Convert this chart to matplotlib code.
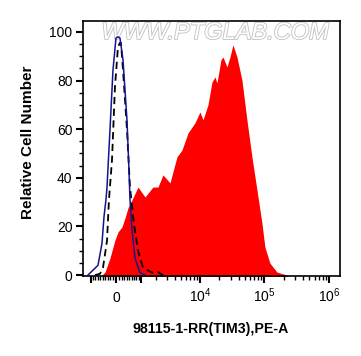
import numpy as np
import matplotlib.pyplot as plt
import matplotlib.patheffects as pe

plt.rcParams['font.family'] = ['Liberation Sans', 'DejaVu Sans']
plt.rcParams['mathtext.default'] = 'regular'

# 对照1 (蓝色实线)
ctrl_x = [-1175, -688, -521, -441, -365, -327, -216, -107, 0, 71, 143, 253, 403, 481, 521, 603, 732, 966, 1235]
ctrl_y = [0, 4, 13, 24, 31, 36, 59.7, 84.4, 97.5, 98, 97.5, 88.5, 63.8, 43.2, 31, 19, 7, 1, 0]

# 对照2 (黑色虚线)
blank_x = [-822, -603, -481, -327, -253, -143, -36, 71, 143, 179, 253, 403, 521, 688, 869, 1122, 1667, 2128, 2584]
blank_y = [0, 0.5, 3, 14, 31, 47.3, 77.4, 93.8, 95.5, 95.5, 84.4, 59.7, 36.2, 21, 10, 3, 1, 1.2, 0]

# 98115-1-RR (红色填充)
tim3_x = [-521, -403, -216, -36, 71, 216, 327, 441, 603, 869, 1235, 1736, 2128, 2584, 3365,
          4358, 5226, 6500, 8360, 10010, 11150, 13330, 15380, 17130, 18400, 21200, 22800,
          26300, 29300, 32600, 37600, 44900, 53700, 64200, 76800, 91700, 102000, 122000,
          157000, 224000]
tim3_y = [0, 1.2, 7, 14.4, 17.7, 19.8, 23.5, 27.6, 30.9, 36.2, 32.1, 36.2, 36.2, 41.2, 37.9,
          48.6, 51.4, 58.4, 62.6, 67.1, 63.8, 70, 79.4, 81.5, 79, 88.5, 89.7,
          85.6, 89.7, 94.7, 89.7, 80.2, 63.8, 48.6, 35, 21.4, 11.5, 4.9,
          1.2, 0]

xmajor = [-1000, 0, 1000, 1e4, 1e5, 1e6]
xmajor_labels = ['', '0', '', '$10^4$', '$10^5$', '$10^6$']
xminor = ([-i * 100 for i in range(1, 10)] + [i * 100 for i in range(1, 10)] +
          [i * 1000 for i in range(2, 10)] + [i * 10000 for i in range(2, 10)] +
          [i * 100000 for i in range(2, 10)])


# 双指数坐标
def fwd(x):
    return np.arcsinh(np.asarray(x) / 1000.0) / np.log(10)


def inv(y):
    return 1000.0 * np.sinh(np.asarray(y) * np.log(10))


fig = plt.figure(figsize=(3.61, 3.56), dpi=100)
ax = fig.add_axes([0.2299, 0.2247, 0.7119, 0.7163])
ax.set_xscale('function', functions=(fwd, inv))

ax.fill_between(tim3_x, tim3_y, -2, color='#ff0000', lw=0, zorder=1)
ax.plot(blank_x, blank_y, color='black', lw=1.3, dashes=(4, 2.5), zorder=3)
ax.plot(ctrl_x, ctrl_y, color='#14148f', lw=1.1, zorder=4)

ax.text(0.514, 0.955, 'WWW.PTGLAB.COM', transform=ax.transAxes, fontsize=17,
        style='italic', color='white', ha='center', va='center', zorder=0,
        path_effects=[pe.withStroke(linewidth=1.3, foreground='#c4c4c4')])

ax.set_xlim(-1470, 1.49e6)
ax.set_ylim(-0.4, 104.5)
ax.set_xticks(xmajor)
ax.set_xticklabels(xmajor_labels)
ax.set_xticks(xminor, minor=True)
ax.set_yticks(np.arange(0, 101, 20))
ax.set_yticks(np.arange(0, 101, 5), minor=True)

ax.tick_params(which='major', direction='out', length=5, width=1.5, labelsize=10, pad=2.5)
ax.tick_params(which='minor', direction='out', length=3, width=1)
ax.tick_params(axis='x', which='major', pad=14)
for lab in ax.get_xticklabels():
    lab.set_va('baseline')
for s in ax.spines.values():
    s.set_linewidth(1.2)

fig.text(211 / 361, 1 - 333 / 356, '98115-1-RR(TIM3),PE-A', fontsize=10.2,
         fontweight='bold', ha='center', va='baseline')
fig.text(28 / 361, 1 - 142 / 356, 'Relative Cell Number', fontsize=11,
         fontweight='bold', ha='center', va='center', rotation=90)

fig.savefig('out.png', dpi=100)
